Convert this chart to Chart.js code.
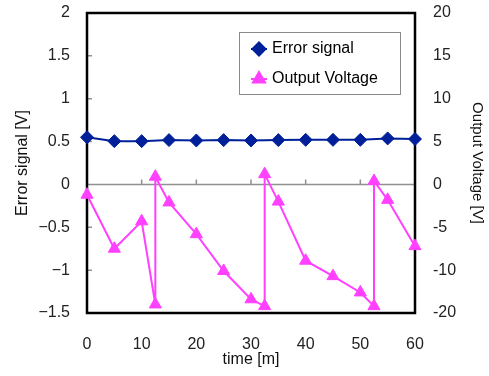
<!DOCTYPE html>
<html>
<head>
<meta charset="utf-8">
<script src="https://cdn.jsdelivr.net/npm/chart.js@4.4.1/dist/chart.umd.min.js"></script>
<style>
    html, body { margin: 0; padding: 0; background: #fff; }
    #wrap { width: 489px; height: 376px; position: relative; }
</style>
</head>
<body>
<div id="wrap"><canvas id="chart"></canvas></div>
<script>
// error signal, left axis [V]
const errTime = [0, 5, 10, 15, 20, 25, 30, 35, 40, 45, 50, 55, 60];
const errValues = [0.55, 0.505, 0.505, 0.517, 0.513, 0.517, 0.513, 0.517, 0.52, 0.52, 0.52, 0.537, 0.53];

// output voltage, right axis [V]
const voltTime = [0, 5, 10, 12.5, 12.5, 15, 20, 25, 30, 32.5, 32.5, 35, 40, 45, 50, 52.5, 52.5, 55, 60];
const voltValues = [-1.2, -7.5, -4.3, -14.0, 0.9, -2.1, -5.8, -10.1, -13.4, -14.2, 1.2, -2.0, -8.9, -10.7, -12.6, -14.2, 0.4, -1.8, -7.2];

// ticks
const timeTicks = [0, 10, 20, 30, 40, 50, 60];
const errTicks = [-1.5, -1, -0.5, 0, 0.5, 1, 1.5, 2];
const voltTicks = [-15, -10, -5, 0, 5, 10, 15, 20];
const voltTickLabels = ['-20', '-10', '-5', '0', '5', '10', '15', '20'];

const FONT = "'Liberation Sans', Arial, sans-serif";
const BLUE = '#00209a';
const PINK = '#ff40ff';

// black frame, zero line and small tick marks
const framePlugin = {
    id: 'frame',
    beforeDatasetsDraw(chart) {
        const { ctx, chartArea: a, scales } = chart;
        const y0 = scales.y.getPixelForValue(0);
        ctx.save();
        ctx.strokeStyle = '#909090';
        ctx.lineWidth = 1.5;
        ctx.beginPath();
        ctx.moveTo(a.left, y0);
        ctx.lineTo(a.right, y0);
        timeTicks.slice(1, -1).forEach(t => {
            const x = scales.x.getPixelForValue(t);
            ctx.moveTo(x, y0);
            ctx.lineTo(x, y0 - 5);
        });
        errTicks.slice(1, -1).forEach(v => {
            if (v === 0) return;
            const y = scales.y.getPixelForValue(v);
            ctx.moveTo(a.left, y);
            ctx.lineTo(a.left + 5, y);
        });
        ctx.stroke();
        ctx.strokeStyle = '#000';
        ctx.lineWidth = 2.5;
        ctx.strokeRect(a.left, a.top, a.right - a.left, a.bottom - a.top);
        ctx.restore();
    }
};

// legend box inside the plot
const boxLegend = {
    id: 'boxLegend',
    afterDraw(chart) {
        const { ctx, chartArea: a } = chart;
        const bx = a.left + 152, by = a.top + 19, bw = 161, bh = 62;
        ctx.save();
        ctx.fillStyle = '#fff';
        ctx.fillRect(bx, by, bw, bh);
        ctx.strokeStyle = '#8a8a8a';
        ctx.lineWidth = 1;
        ctx.strokeRect(bx + 0.5, by + 0.5, bw, bh);
        chart.data.datasets.forEach((ds, i) => {
            const cy = by + 17 + i * 30;
            const mx = bx + 20;
            ctx.strokeStyle = ds.borderColor;
            ctx.fillStyle = ds.backgroundColor;
            ctx.lineWidth = 2;
            ctx.beginPath();
            ctx.moveTo(mx - 8, cy);
            ctx.lineTo(mx + 8, cy);
            ctx.stroke();
            Chart.helpers.drawPoint(ctx, {
                pointStyle: ds.pointStyle, radius: ds.pointRadius, rotation: 0, borderWidth: 1
            }, mx, cy);
            ctx.fillStyle = '#000';
            ctx.font = '16px ' + FONT;
            ctx.textBaseline = 'middle';
            ctx.fillText(ds.label, bx + 33, cy);
        });
        ctx.restore();
    }
};

// keep the end labels from pushing the plot area down
const noEdgePad = s => { s.paddingTop = 0; s.paddingBottom = 0; };

const ctx = document.getElementById('chart').getContext('2d');
new Chart(ctx, {
    type: 'line',
    data: {
        datasets: [{
            label: 'Error signal',
            data: errTime.map((t, i) => ({ x: t, y: errValues[i] })),
            yAxisID: 'y',
            borderColor: BLUE,
            backgroundColor: BLUE,
            borderWidth: 2,
            pointStyle: 'rectRot',
            pointRadius: 6.5,
            pointBorderWidth: 1,
            tension: 0,
            clip: false
        }, {
            label: 'Output Voltage',
            data: voltTime.map((t, i) => ({ x: t, y: voltValues[i] })),
            yAxisID: 'y2',
            borderColor: PINK,
            backgroundColor: PINK,
            borderWidth: 2,
            pointStyle: 'triangle',
            pointRadius: 7,
            pointBorderWidth: 1,
            tension: 0,
            clip: false
        }]
    },
    options: {
        responsive: true,
        maintainAspectRatio: false,
        animation: false,
        layout: { padding: { top: 13, left: 0, right: 0, bottom: 0 } },
        plugins: {
            legend: { display: false },
            tooltip: { enabled: false }
        },
        scales: {
            x: {
                type: 'linear',
                min: 0,
                max: 60,
                afterBuildTicks: s => { s.ticks = timeTicks.map(v => ({ value: v })); },
                afterFit: s => { s.height = 63; s.paddingLeft = 0; s.paddingRight = 0; },
                grid: { display: false },
                border: { display: false },
                ticks: { font: { size: 16, family: FONT }, color: '#222', padding: 14, maxRotation: 0 },
                title: { display: true, text: 'time [m]', color: '#111', font: { size: 16, family: FONT }, padding: { top: 0, bottom: 7 } }
            },
            y: {
                position: 'left',
                min: -1.5,
                max: 2,
                afterBuildTicks: s => { s.ticks = errTicks.map(v => ({ value: v })); },
                afterFit: s => { s.width = 87; noEdgePad(s); },
                grid: { display: false },
                border: { display: false },
                ticks: {
                    font: { size: 16, family: FONT }, color: '#222', padding: 9,
                    callback: v => String(v).replace('-', '\u2212')
                },
                title: { display: true, text: 'Error signal [V]', color: '#111', font: { size: 16, family: FONT }, padding: { top: 13, bottom: 0 } }
            },
            y2: {
                position: 'right',
                min: -15,
                max: 20,
                afterBuildTicks: s => { s.ticks = voltTicks.map(v => ({ value: v })); },
                afterFit: s => { s.width = 74; noEdgePad(s); },
                grid: { display: false },
                border: { display: false },
                ticks: {
                    font: { size: 16, family: FONT }, color: '#222', padding: 10,
                    callback: (v, i) => voltTickLabels[i]
                },
                title: { display: true, text: 'Output Voltage [V]', color: '#111', font: { size: 15, family: FONT }, padding: { top: 3, bottom: 0 } }
            }
        }
    },
    plugins: [framePlugin, boxLegend]
});
</script>
</body>
</html>
